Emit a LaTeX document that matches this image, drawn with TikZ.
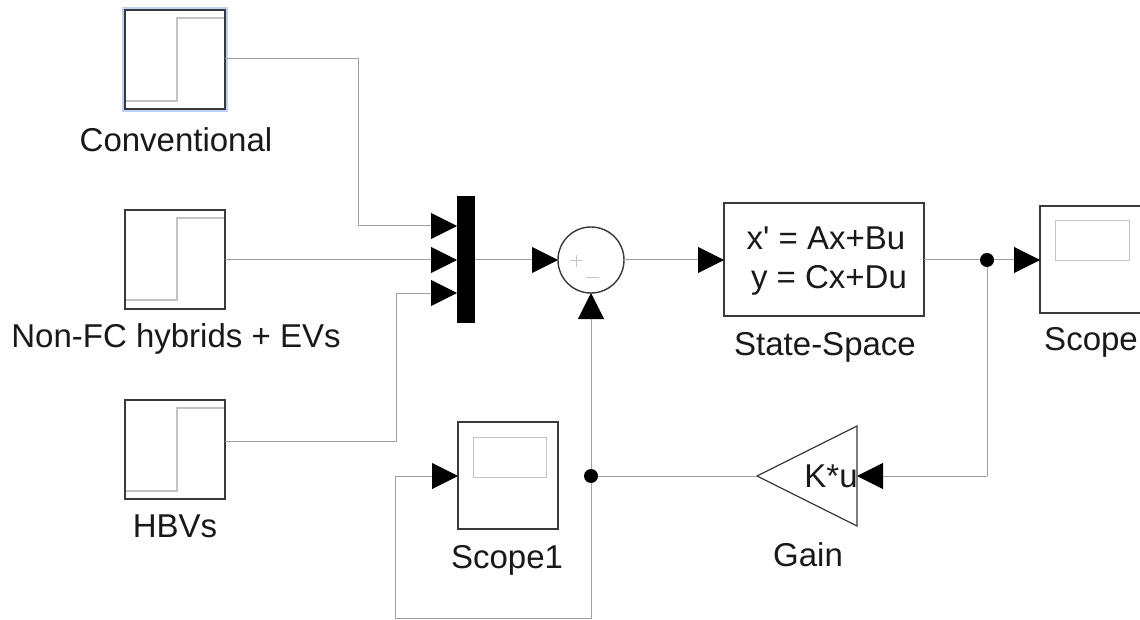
\documentclass[tikz,border=0pt]{standalone}
\usepackage{fontspec}
\setmainfont{Liberation Sans}
\usetikzlibrary{arrows.meta,shapes.geometric}
\definecolor{blk}{HTML}{3A3A3A}
\definecolor{wire}{HTML}{A0A0A0}
\definecolor{inner}{HTML}{C4C4C4}
\definecolor{halo}{HTML}{BBD4F5}
\tikzset{
  x=1pt,y=-1pt,
  block/.style={draw=blk,line width=1.4pt,fill=white,inner sep=0pt,outer sep=0pt},
  wireline/.style={draw=wire,line width=1pt},
  sig/.style={wireline,-{Triangle[length=26pt,width=26pt,color=black]}},
  trace/.style={draw=inner,line width=1.3pt},
  lbl/.style={font=\fontsize{33}{39}\selectfont,text=black!90,inner sep=0pt},
  dot/.style={circle,fill=black,draw=none,minimum size=14pt,inner sep=0pt,outer sep=0pt},
}
\begin{document}
\begin{tikzpicture}
\useasboundingbox (0,0) rectangle (1140,620);
\fill[white] (0,0) rectangle (1140,620);
% blocks
\fill[halo] (122,7) rectangle (228,112);
\node[block,minimum width=100pt,minimum height=99pt] (s1) at (175,59.5) {};
\node[block,minimum width=100pt,minimum height=99pt] (s2) at (175,259.5) {};
\node[block,minimum width=100pt,minimum height=99pt] (s3) at (175,449.5) {};
\draw[trace] (126,101) -- (177,101) -- (177,18) -- (224,18);
\draw[trace] (126,300) -- (177,300) -- (177,218) -- (224,218);
\draw[trace] (126,491) -- (177,491) -- (177,408) -- (224,408);
\node[lbl] (l1) at (176,140) {Conventional};
\node[lbl] (l2) at (176,339) {Non-FC hybrids + EVs};
\node[lbl] (l3) at (175,526) {HBVs};
\node[fill=black,draw=none,minimum width=18pt,minimum height=127pt,inner sep=0pt,outer sep=0pt] (mux) at (466,259.5) {};
\node[circle,draw=blk,line width=1.4pt,fill=white,minimum size=66pt,inner sep=0pt,outer sep=0pt] (sum) at (591,260) {};
\draw[inner,line width=1pt] (570,261) -- (582,261) (576,255) -- (576,267) (586,278) -- (599,278);
\node[block,minimum width=200pt,minimum height=113pt] (ss) at (824,259.5) {};
\node[lbl,align=center] (sstxt) at (826,261) {x\textquotesingle{} = Ax+Bu\\\hspace*{6pt}y = Cx+Du};
\node[lbl] (l4) at (825,347) {State-Space};
\node[block,minimum width=110pt,minimum height=107pt] (sc) at (1095,259.5) {};
\draw[inner,line width=1pt] (1055,221) rectangle (1129,261);
\useasboundingbox (0,0) rectangle (1140,620);
\node[lbl,anchor=east] (l5) at (1138,342) {Scope};
\node[block,minimum width=100pt,minimum height=107pt] (sc1) at (508,475.5) {};
\draw[inner,line width=1pt] (473,437) rectangle (546,477);
\node[lbl] (l6) at (507,560) {Scope1};
\node[isosceles triangle,isosceles triangle apex angle=53.13,isosceles triangle stretches,shape border rotate=180,draw=blk,line width=1.2pt,fill=white,minimum width=100pt,minimum height=100pt,inner sep=0pt,outer sep=0pt,anchor=apex] (gain) at (757,476) {};
\node[lbl] (ktxt) at (831,476) {K*u};
\node[lbl] (l7) at (808,555) {Gain};
% junctions
\node[dot] (j1) at (987,260) {};
\node[dot] (j2) at (591,476) {};
% mux inputs
\coordinate (m1) at (457,226);
\coordinate (m2) at (457,260);
\coordinate (m3) at (457,293);
\coordinate (c1) at (358,59);
\coordinate (c1b) at (358,226);
\coordinate (c3) at (396,441);
\coordinate (c3b) at (396,293);
\coordinate (b1) at (395,618);
\coordinate (b2) at (591,618);
\coordinate (b3) at (395,476);
\coordinate (g1) at (987,476);
\draw[sig] (s1.east |- c1) -- (c1) -- (c1b) -- (m1);
\draw[sig] (s2.east |- m2) -- (m2);
\draw[sig] (s3.east |- c3) -- (c3) -- (c3b) -- (m3);
\draw[sig] (mux.east |- sum.west) -- (sum.west);
\draw[sig] (sum.east) -- (ss.west |- sum.east);
\draw[wireline] (ss.east |- j1) -- (j1);
\draw[sig] (j1) -- (sc.west |- j1);
\draw[wireline] (j1) -- (g1);
\draw[sig] (g1) -- (gain.lower side);
\draw[wireline] (gain.apex) -- (j2);
\draw[sig] (j2) -- (sum.south);
\draw[sig] (j2) -- (b2) -- (b1) -- (b3) -- (sc1.west |- b3);
\end{tikzpicture}
\end{document}
